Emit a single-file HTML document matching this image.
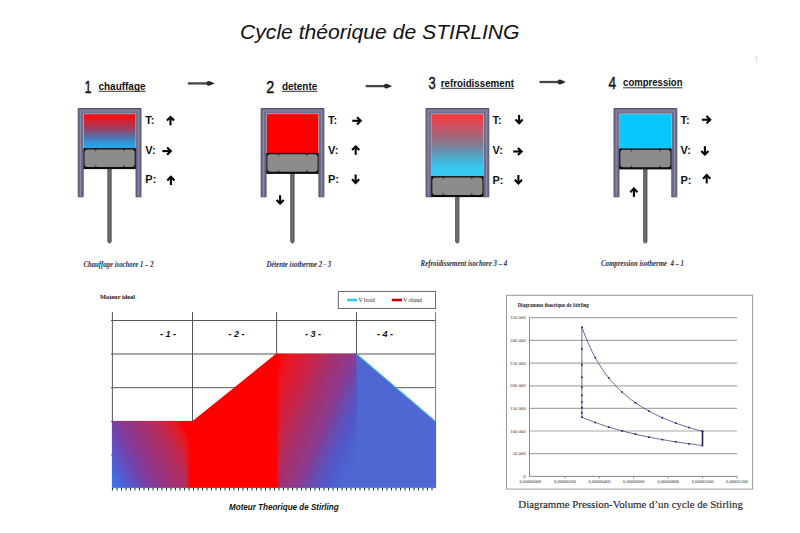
<!DOCTYPE html>
<html><head><meta charset="utf-8"><title>Cycle théorique de STIRLING</title>
<style>
html,body{margin:0;padding:0;background:#fff;}
svg{display:block;}
.sans{font-family:"Liberation Sans",Arial,sans-serif;}
.serif{font-family:"Liberation Serif","Times New Roman",serif;}
</style></head><body>
<svg width="800" height="533" viewBox="0 0 800 533">
<defs>
  <linearGradient id="g1" x1="0" y1="0" x2="0" y2="1">
    <stop offset="0.000" stop-color="#ee1018"/>
    <stop offset="0.129" stop-color="#f01018"/>
    <stop offset="0.186" stop-color="#d82030"/>
    <stop offset="0.330" stop-color="#b83048"/>
    <stop offset="0.415" stop-color="#a03c5c"/>
    <stop offset="0.501" stop-color="#8a4c78"/>
    <stop offset="0.587" stop-color="#6c6090"/>
    <stop offset="0.702" stop-color="#4c78b4"/>
    <stop offset="0.788" stop-color="#3c8ccc"/>
    <stop offset="0.874" stop-color="#2c9ee0"/>
    <stop offset="1.000" stop-color="#28a4e8"/>
  </linearGradient>
  <linearGradient id="g3" x1="0" y1="0" x2="0" y2="1">
    <stop offset="0.000" stop-color="#f23c44"/>
    <stop offset="0.072" stop-color="#f03c44"/>
    <stop offset="0.183" stop-color="#d25060"/>
    <stop offset="0.310" stop-color="#b26070"/>
    <stop offset="0.437" stop-color="#927088"/>
    <stop offset="0.548" stop-color="#7488a0"/>
    <stop offset="0.660" stop-color="#58a0c0"/>
    <stop offset="0.771" stop-color="#44b8dc"/>
    <stop offset="0.866" stop-color="#38c8f0"/>
    <stop offset="1.000" stop-color="#36caf2"/>
  </linearGradient>
  <g id="arrow">
    <path d="M0,-4.3 V4" stroke="#000" stroke-width="2.1" fill="none"/>
    <path d="M-3.6,0.4 L0,4.1 L3.6,0.4" stroke="#000" stroke-width="2.1" fill="none" stroke-linejoin="miter"/>
  </g>
  <g id="piston">
    <rect x="0" y="0" width="52.8" height="21" fill="#0c0c0c"/>
    <rect x="1.3" y="1.3" width="12" height="17.6" rx="3" fill="#8e8c8b"/>
    <rect x="12.1" y="1.3" width="29" height="17.6" rx="2" fill="#8e8c8b"/>
    <rect x="39.9" y="1.3" width="11.6" height="17.6" rx="3" fill="#8e8c8b"/>
    <rect x="9" y="3.3" width="35" height="13.6" fill="#8e8c8b"/>
    <path d="M12.4,1.3 v2.2 M12.4,18.9 v-2.2 M40.6,1.3 v2.2 M40.6,18.9 v-2.2" stroke="#4a4a4a" stroke-width="0.7"/>
  </g>
</defs>

<!-- Title -->
<text class="sans" x="240" y="39.3" font-size="20" font-style="italic" textLength="279.5" lengthAdjust="spacingAndGlyphs" fill="#111">Cycle théorique de STIRLING</text>

<!-- Headings -->
<g class="sans" fill="#111">
  <text x="84.6" y="92.8" font-size="17" textLength="7" lengthAdjust="spacingAndGlyphs" stroke="#111" stroke-width="0.45">1</text>
  <text x="98.5" y="89.5" font-size="11.5" font-weight="bold" textLength="47" lengthAdjust="spacingAndGlyphs">chauffage</text>
  <text x="266.3" y="93" font-size="17" textLength="8" lengthAdjust="spacingAndGlyphs" stroke="#111" stroke-width="0.45">2</text>
  <text x="281.9" y="89.5" font-size="11.5" font-weight="bold" textLength="35.4" lengthAdjust="spacingAndGlyphs">detente</text>
  <text x="428.4" y="89.3" font-size="17" textLength="7.2" lengthAdjust="spacingAndGlyphs" stroke="#111" stroke-width="0.45">3</text>
  <text x="440.7" y="86.8" font-size="11.5" font-weight="bold" textLength="73.2" lengthAdjust="spacingAndGlyphs">refroidissement</text>
  <text x="608.4" y="88.6" font-size="17" textLength="7.6" lengthAdjust="spacingAndGlyphs" stroke="#111" stroke-width="0.45">4</text>
  <text x="623.1" y="86.1" font-size="11.5" font-weight="bold" textLength="59.4" lengthAdjust="spacingAndGlyphs">compression</text>
</g>
<!-- heading underlines -->
<g stroke="#333" stroke-width="1">
  <path d="M98.5,91.3 H145.5"/>
  <path d="M281.9,91.3 H317.3"/>
  <path d="M440.7,88.3 H513.9"/>
  <path d="M623.1,87.8 H682.5"/>
</g>

<!-- header arrows -->
<g>
  <path d="M187.8,83.4 H208.6" stroke="#454545" stroke-width="2.3"/><path d="M206.6,83.4 C206.6,80.5 209.1,80.6 211.1,81.7 L214.8,83.4 L211.1,85.1 C209.1,86.2 206.6,86.3 206.6,83.4 Z" fill="#2a2a2a"/>
  <path d="M365.7,86.1 H386.0" stroke="#454545" stroke-width="2.3"/><path d="M384.0,86.1 C384.0,83.2 386.5,83.3 388.5,84.4 L392.2,86.1 L388.5,87.8 C386.5,88.9 384.0,89.0 384.0,86.1 Z" fill="#2a2a2a"/>
  <path d="M539.5,82.0 H559.6" stroke="#454545" stroke-width="2.3"/><path d="M557.6,82.0 C557.6,79.1 560.1,79.2 562.1,80.3 L565.8,82.0 L562.1,83.7 C560.1,84.8 557.6,84.9 557.6,82.0 Z" fill="#2a2a2a"/>
</g>

<!-- Cylinder 1 -->
<g>
  <rect x="83.2" y="113.5" width="52.8" height="34.9" fill="url(#g1)"/>
  <rect x="107.8" y="166.1" width="3.4" height="76.9" rx="1.7" fill="#6e6e6e" stroke="#454545" stroke-width="0.8"/>
  <use href="#piston" x="83.2" y="148.1"/>
  <path d="M78.2,196.8 V108.5 H141.0 V196.8 H136.0 V113.5 H83.2 V196.8 Z" fill="#70708e" stroke="#4a4a62" stroke-width="0.9"/>
  <path d="M80.5,196.2 V110.9 H138.7 V196.2" fill="none" stroke="#8e8eb2" stroke-width="0.8"/>
  <path d="M83.4,148.1 V113.7 H135.8 V148.1" fill="none" stroke="#e6dde8" stroke-width="0.6"/>
</g>
<!-- Cylinder 2 -->
<g>
  <rect x="266.1" y="113.5" width="52.8" height="39.7" fill="#ff0000"/>
  <rect x="290.7" y="170.9" width="3.4" height="72.1" rx="1.7" fill="#6e6e6e" stroke="#454545" stroke-width="0.8"/>
  <use href="#piston" x="266.1" y="152.9"/>
  <path d="M261.1,196.8 V108.5 H323.9 V196.8 H318.9 V113.5 H266.1 V196.8 Z" fill="#70708e" stroke="#4a4a62" stroke-width="0.9"/>
  <path d="M263.4,196.2 V110.9 H321.6 V196.2" fill="none" stroke="#8e8eb2" stroke-width="0.8"/>
  <path d="M266.3,152.9 V113.7 H318.7 V152.9" fill="none" stroke="#e6dde8" stroke-width="0.6"/>
</g>
<!-- Cylinder 3 -->
<g>
  <rect x="431.0" y="113.5" width="52.8" height="62.9" fill="url(#g3)"/>
  <rect x="455.6" y="194.1" width="3.4" height="48.9" rx="1.7" fill="#6e6e6e" stroke="#454545" stroke-width="0.8"/>
  <use href="#piston" x="431.0" y="176.1"/>
  <path d="M426.0,196.8 V108.5 H488.8 V196.8 H483.8 V113.5 H431.0 V196.8 Z" fill="#70708e" stroke="#4a4a62" stroke-width="0.9"/>
  <path d="M428.3,196.2 V110.9 H486.5 V196.2" fill="none" stroke="#8e8eb2" stroke-width="0.8"/>
  <path d="M431.2,176.1 V113.7 H483.6 V176.1" fill="none" stroke="#e6dde8" stroke-width="0.6"/>
</g>
<!-- Cylinder 4 -->
<g>
  <rect x="619.0" y="113.5" width="52.8" height="35.2" fill="#08c7fc"/>
  <rect x="643.6" y="166.4" width="3.4" height="76.6" rx="1.7" fill="#6e6e6e" stroke="#454545" stroke-width="0.8"/>
  <use href="#piston" x="619.0" y="148.4"/>
  <path d="M614.0,196.8 V108.5 H676.8 V196.8 H671.8 V113.5 H619.0 V196.8 Z" fill="#70708e" stroke="#4a4a62" stroke-width="0.9"/>
  <path d="M616.3,196.2 V110.9 H674.5 V196.2" fill="none" stroke="#8e8eb2" stroke-width="0.8"/>
  <path d="M619.2,148.4 V113.7 H671.6 V148.4" fill="none" stroke="#e6dde8" stroke-width="0.6"/>
</g>

<path d="M756.3,56 V62.5" stroke="#aaa" stroke-width="0.8" stroke-dasharray="1,1"/>
<!-- T V P labels -->
<g class="sans" font-size="11" font-weight="bold" fill="#111">
  <text x="145.3" y="124.1">T:</text><text x="145.3" y="153.8">V:</text><text x="145.3" y="183.4">P:</text>
  <text x="328" y="123.9">T:</text><text x="328" y="153.8">V:</text><text x="328" y="183">P:</text>
  <text x="492.5" y="123.9">T:</text><text x="492.5" y="154">V:</text><text x="492.5" y="183.8">P:</text>
  <text x="680.5" y="123.9">T:</text><text x="680.5" y="153.9">V:</text><text x="680.5" y="183.5">P:</text>
</g>
<!-- arrows: up = rotate(180) of down -->
<g>
  <use href="#arrow" transform="translate(170.5,121) rotate(180)"/>
  <use href="#arrow" transform="translate(166.7,151.1) rotate(-90)"/>
  <use href="#arrow" transform="translate(170.9,180.8) rotate(180)"/>

  <use href="#arrow" transform="translate(356.6,120.8) rotate(-90)"/>
  <use href="#arrow" transform="translate(355.7,150.5) rotate(180)"/>
  <use href="#arrow" transform="translate(355.6,178.8)"/>

  <use href="#arrow" transform="translate(519.1,119.2)"/>
  <use href="#arrow" transform="translate(517.5,151.5) rotate(-90)"/>
  <use href="#arrow" transform="translate(518.4,179.3)"/>

  <use href="#arrow" transform="translate(706.1,119.7) rotate(-90)"/>
  <use href="#arrow" transform="translate(704.9,150.5)"/>
  <use href="#arrow" transform="translate(706.7,179.1) rotate(180)"/>

  <use href="#arrow" transform="translate(280.1,199.5)"/>
  <use href="#arrow" transform="translate(633.9,192.6) rotate(180)"/>
</g>

<!-- captions -->
<g class="serif" font-size="7.4" font-style="italic" font-weight="bold" fill="#2a2a44">
  <text x="83.4" y="266.6" textLength="70.2" lengthAdjust="spacingAndGlyphs">Chauffage isochore 1 – 2</text>
  <text x="266.4" y="266.8" textLength="64.7" lengthAdjust="spacingAndGlyphs">Détente isotherme 2 - 3</text>
  <text x="420.6" y="265.6" textLength="86.6" lengthAdjust="spacingAndGlyphs">Refroidissement isochore 3 – 4</text>
  <text x="601" y="265.6" textLength="83" lengthAdjust="spacingAndGlyphs" style="white-space:pre">Compression isotherme  4 – 1</text>
</g>

<!-- ===== Bottom-left chart ===== -->
<defs>
  <linearGradient id="r1" x1="76" y1="422" x2="156.6" y2="377.7" gradientUnits="userSpaceOnUse">
    <stop offset="0.000" stop-color="#3a7af2"/>
    <stop offset="0.114" stop-color="#4c64d8"/>
    <stop offset="0.229" stop-color="#6250c0"/>
    <stop offset="0.343" stop-color="#7840a6"/>
    <stop offset="0.438" stop-color="#8a3890"/>
    <stop offset="0.610" stop-color="#a23070"/>
    <stop offset="0.676" stop-color="#aa3068"/>
    <stop offset="0.800" stop-color="#c02850"/>
    <stop offset="0.895" stop-color="#d82030"/>
    <stop offset="0.971" stop-color="#f01018"/>
    <stop offset="1.000" stop-color="#ff0000"/>
  </linearGradient>
  <linearGradient id="r3" x1="280" y1="354" x2="382" y2="396.84" gradientUnits="userSpaceOnUse">
    <stop offset="0.000" stop-color="#ff0000"/>
    <stop offset="0.038" stop-color="#f80a10"/>
    <stop offset="0.122" stop-color="#e8182a"/>
    <stop offset="0.205" stop-color="#d81c3a"/>
    <stop offset="0.288" stop-color="#c82448"/>
    <stop offset="0.372" stop-color="#b42c5c"/>
    <stop offset="0.455" stop-color="#a03070"/>
    <stop offset="0.538" stop-color="#963880"/>
    <stop offset="0.622" stop-color="#8a3c90"/>
    <stop offset="0.673" stop-color="#7444a4"/>
    <stop offset="0.757" stop-color="#6250b8"/>
    <stop offset="0.840" stop-color="#5058c8"/>
    <stop offset="0.923" stop-color="#4c62d0"/>
    <stop offset="1.000" stop-color="#4e67d2"/>
  </linearGradient>
  <linearGradient id="redfade" x1="0" y1="0" x2="1" y2="0">
    <stop offset="0" stop-color="#ff0000" stop-opacity="1"/>
    <stop offset="0.4" stop-color="#ff0000" stop-opacity="0.85"/>
    <stop offset="1" stop-color="#ff0000" stop-opacity="0"/>
  </linearGradient>
  <linearGradient id="redfade1" x1="0" y1="0" x2="1" y2="0">
    <stop offset="0" stop-color="#ff0000" stop-opacity="0"/>
    <stop offset="0.6" stop-color="#ff0000" stop-opacity="0.85"/>
    <stop offset="1" stop-color="#ff0000" stop-opacity="1"/>
  </linearGradient>
  <clipPath id="fillclip"><path d="M112,421.3 H192.3 L276,353.8 H356.5 L435.6,421.3 V488 H112 Z"/></clipPath>
</defs>
<g stroke="#555" stroke-width="1" fill="none">
  <path d="M111,320.5 H436"/>
  <path d="M111,354 H436"/>
  <path d="M111,387.7 H436"/>
  <path d="M111,421.3 H436"/>
  <path d="M111,455 H436"/>
  <path d="M112.4,312 V488"/>
  <path d="M192.5,312 V488"/>
  <path d="M276.6,312 V488"/>
  <path d="M356.5,312 V488"/>
  <path d="M435.6,312 V488" stroke="#777"/>
</g>
<!-- fills -->
<g clip-path="url(#fillclip)">
  <rect x="112" y="350" width="325" height="140" fill="#ff0000"/>
  <rect x="112" y="350" width="79" height="140" fill="url(#r1)"/>
  <rect x="186" y="350" width="6" height="140" fill="url(#redfade1)"/>
  <rect x="276" y="350" width="81" height="140" fill="url(#r3)"/>
  <rect x="274" y="350" width="6" height="140" fill="url(#redfade)"/>
  <rect x="356.5" y="350" width="81" height="140" fill="#4e67d2"/>
</g>
<path d="M356.5,353.8 L435.6,421.3" stroke="#40c8f0" stroke-width="1.1"/>
<path d="M113,420 H190" stroke="#fff" stroke-opacity="0.75" stroke-width="1.6"/>
<path d="M278,352.6 H354" stroke="#fff" stroke-opacity="0.6" stroke-width="1.4"/>
<!-- axis ticks -->
<path d="M110.5,488.4 H436" stroke="#c8eef8" stroke-width="1"/>
<path d="M112,489.2 H436" stroke="#333" stroke-width="2.4" stroke-dasharray="1,3.5"/>
<g class="sans" font-size="9" font-weight="bold" font-style="italic" fill="#111">
  <text x="160" y="337">- 1 -</text>
  <text x="228.5" y="336.5">- 2 -</text>
  <text x="305" y="336.5">- 3 -</text>
  <text x="377" y="336.5">- 4 -</text>
</g>
<text class="serif" x="100" y="298.5" font-size="7" font-weight="bold" textLength="35" lengthAdjust="spacingAndGlyphs" fill="#111">Moteur ideal</text>
<!-- legend -->
<rect x="338.3" y="291.4" width="97.3" height="17" fill="#fff" stroke="#555" stroke-width="0.9"/>
<path d="M347.2,300 H357" stroke="#3cc4ee" stroke-width="2.6"/>
<path d="M391.8,300 H402" stroke="#cc0000" stroke-width="2.6"/>
<g class="serif" font-size="7" fill="#222">
  <text x="358.5" y="302.2" textLength="16.2" lengthAdjust="spacingAndGlyphs">V froid</text>
  <text x="403.2" y="302.2" textLength="18.6" lengthAdjust="spacingAndGlyphs">V chaud</text>
</g>
<text class="sans" x="229" y="510.4" font-size="9" font-weight="bold" font-style="italic" textLength="109.7" lengthAdjust="spacingAndGlyphs" fill="#111">Moteur Theorique de Stirling</text>

<!-- ===== PV diagram ===== -->
<rect x="506.5" y="295.3" width="246.1" height="193.8" fill="#fff" stroke="#999" stroke-width="1"/>
<text class="serif" x="517.7" y="307" font-size="6" font-weight="bold" textLength="71.2" lengthAdjust="spacingAndGlyphs" fill="#222">Diagramme theorique de Stirling</text>
<g stroke="#a8a8a8" stroke-width="1.2">
  <path d="M529.5,317.7 H737"/>
  <path d="M529.5,340.4 H737"/>
  <path d="M529.5,363.1 H737"/>
  <path d="M529.5,385.8 H737"/>
  <path d="M529.5,408.4 H737"/>
  <path d="M529.5,431 H737"/>
  <path d="M529.5,453.6 H737"/>
</g>
<path d="M529.5,317.7 V476.4 H737" stroke="#888" stroke-width="1" fill="none"/>
<g stroke="#888" stroke-width="1">
  <path d="M564.9,476.4 v2 M599.3,476.4 v2 M633.7,476.4 v2 M668.2,476.4 v2 M702.6,476.4 v2 M737,476.4 v2"/>
</g>
<g class="serif" font-size="4.8" fill="#333" text-anchor="end">
  <text x="525.6" y="319.2">350 000</text>
  <text x="525.6" y="341.9">300 000</text>
  <text x="525.6" y="364.6">250 000</text>
  <text x="525.6" y="387.3">200 000</text>
  <text x="525.6" y="409.9">150 000</text>
  <text x="525.6" y="432.5">100 000</text>
  <text x="525.6" y="455.1">50 000</text>
  <text x="525.6" y="477.8">0</text>
</g>
<g class="serif" font-size="4.6" fill="#333" text-anchor="middle">
  <text x="530.4" y="483.2">0,00000000</text>
  <text x="564.9" y="483.2">0,00000200</text>
  <text x="599.3" y="483.2">0,00000400</text>
  <text x="633.7" y="483.2">0,00000600</text>
  <text x="668.2" y="483.2">0,00000800</text>
  <text x="702.6" y="483.2">0,00001000</text>
  <text x="737" y="483.2">0,00001200</text>
</g>
<path id="pvcurve" d="M581.9,417.3 V327.1 L583.9,332.7 L586.0,338.0 L588.0,342.8 L590.1,347.3 L592.1,351.6 L594.2,355.5 L596.2,359.2 L598.3,362.7 L600.3,366.0 L602.3,369.1 L604.4,372.1 L606.4,374.9 L608.5,377.5 L610.5,380.0 L612.6,382.4 L614.6,384.6 L616.6,386.8 L618.7,388.9 L620.7,390.8 L622.8,392.7 L624.8,394.5 L626.9,396.2 L628.9,397.9 L631.0,399.5 L633.0,401.0 L635.0,402.5 L637.1,403.9 L639.1,405.2 L641.2,406.5 L643.2,407.8 L645.3,409.0 L647.3,410.2 L649.4,411.3 L651.4,412.4 L653.4,413.5 L655.5,414.5 L657.5,415.5 L659.6,416.4 L661.6,417.4 L663.7,418.3 L665.7,419.1 L667.8,420.0 L669.8,420.8 L671.8,421.6 L673.9,422.4 L675.9,423.1 L678.0,423.9 L680.0,424.6 L682.1,425.3 L684.1,426.0 L686.1,426.6 L688.2,427.3 L690.2,427.9 L692.3,428.5 L694.3,429.1 L696.4,429.7 L698.4,430.2 L700.5,430.8 L702.5,431.3 V445.6 L700.5,445.3 L698.4,445.0 L696.4,444.8 L694.3,444.5 L692.3,444.2 L690.2,443.9 L688.2,443.6 L686.1,443.3 L684.1,443.1 L682.1,442.8 L680.0,442.5 L678.0,442.1 L675.9,441.8 L673.9,441.5 L671.8,441.2 L669.8,440.9 L667.8,440.5 L665.7,440.2 L663.7,439.8 L661.6,439.5 L659.6,439.1 L657.5,438.8 L655.5,438.4 L653.4,438.0 L651.4,437.6 L649.4,437.2 L647.3,436.8 L645.3,436.4 L643.2,435.9 L641.2,435.5 L639.1,435.1 L637.1,434.6 L635.0,434.1 L633.0,433.6 L631.0,433.1 L628.9,432.6 L626.9,432.1 L624.8,431.6 L622.8,431.1 L620.7,430.5 L618.7,429.9 L616.6,429.4 L614.6,428.8 L612.6,428.2 L610.5,427.6 L608.5,426.9 L606.4,426.3 L604.4,425.6 L602.3,424.9 L600.3,424.2 L598.3,423.5 L596.2,422.8 L594.2,422.1 L592.1,421.3 L590.1,420.5 L588.0,419.7 L586.0,418.9 L583.9,418.1 L581.9,417.3 Z" stroke="#34347a" stroke-width="0.75" fill="none"/>
<g id="pvdots" fill="#1a1a5a"><rect x="594.5" y="356.8" width="1.6" height="1.6"/><rect x="607.9" y="377.0" width="1.6" height="1.6"/><rect x="621.3" y="391.3" width="1.6" height="1.6"/><rect x="634.7" y="402.0" width="1.6" height="1.6"/><rect x="648.1" y="410.3" width="1.6" height="1.6"/><rect x="661.5" y="416.9" width="1.6" height="1.6"/><rect x="674.9" y="422.3" width="1.6" height="1.6"/><rect x="688.3" y="426.7" width="1.6" height="1.6"/><rect x="701.7" y="430.5" width="1.6" height="1.6"/><rect x="594.5" y="421.7" width="1.6" height="1.6"/><rect x="607.9" y="426.2" width="1.6" height="1.6"/><rect x="621.3" y="430.1" width="1.6" height="1.6"/><rect x="634.7" y="433.4" width="1.6" height="1.6"/><rect x="648.1" y="436.3" width="1.6" height="1.6"/><rect x="661.5" y="438.8" width="1.6" height="1.6"/><rect x="674.9" y="441.0" width="1.6" height="1.6"/><rect x="688.3" y="443.0" width="1.6" height="1.6"/><rect x="581.1" y="326.3" width="1.6" height="1.6"/><rect x="581.1" y="348.1" width="1.6" height="1.6"/><rect x="581.1" y="364.1" width="1.6" height="1.6"/><rect x="581.1" y="376.6" width="1.6" height="1.6"/><rect x="581.1" y="386.5" width="1.6" height="1.6"/><rect x="581.1" y="394.6" width="1.6" height="1.6"/><rect x="581.1" y="401.3" width="1.6" height="1.6"/><rect x="581.1" y="406.9" width="1.6" height="1.6"/><rect x="581.1" y="411.9" width="1.6" height="1.6"/><rect x="581.1" y="416.4" width="1.6" height="1.6"/><rect x="701.7" y="430.5" width="1.6" height="1.6"/><rect x="701.7" y="432.1" width="1.6" height="1.6"/><rect x="701.7" y="433.7" width="1.6" height="1.6"/><rect x="701.7" y="435.3" width="1.6" height="1.6"/><rect x="701.7" y="436.9" width="1.6" height="1.6"/><rect x="701.7" y="438.4" width="1.6" height="1.6"/><rect x="701.7" y="440.0" width="1.6" height="1.6"/><rect x="701.7" y="441.6" width="1.6" height="1.6"/><rect x="701.7" y="443.2" width="1.6" height="1.6"/><rect x="701.7" y="444.8" width="1.6" height="1.6"/></g>

<text class="serif" x="518.3" y="507.8" font-size="11" textLength="224.6" lengthAdjust="spacingAndGlyphs" fill="#262626" stroke="#262626" stroke-width="0.15">Diagramme Pression-Volume d’un cycle de Stirling</text>
</svg>
</body></html>
